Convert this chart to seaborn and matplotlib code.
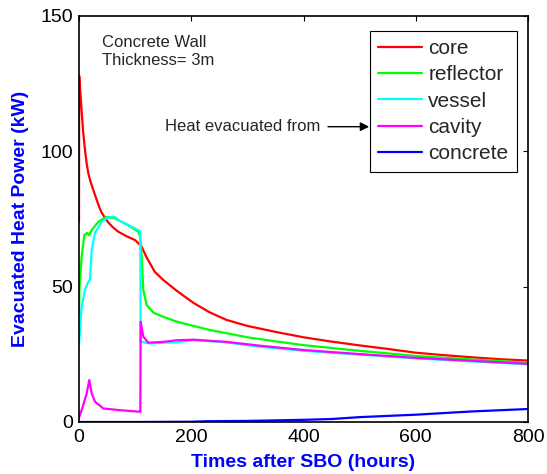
import matplotlib
matplotlib.use("Agg")
import matplotlib.pyplot as plt
import seaborn as sns

# ---------------- data ----------------
series_names = ["core", "reflector", "vessel", "cavity", "concrete"]
series_colors = ["#FF0000", "#00FF00", "#00FFFF", "#FF00FF", "#0000FF"]

core_t = [0, 0.3, 2, 4.7, 7.5, 10.7, 14, 17, 21, 25, 30, 35, 40, 46, 52, 60, 70, 85, 100,
          111, 120, 135, 150, 174, 204, 233, 263, 300, 350, 400, 450, 500, 550, 600,
          650, 700, 750, 800]
core_kw = [74, 128, 123, 115, 107, 100.5, 95, 91.5, 88.5, 86, 83, 80, 77.5, 75.5, 73.8, 72,
           70.3, 68.6, 67.2, 65, 61, 55.5, 52.5, 48.5, 44, 40.5, 37.7, 35.5, 33.3, 31.3,
           29.7, 28.3, 27, 25.6, 24.7, 23.9, 23.2, 22.7]

refl_t = [0, 1, 4.7, 9.5, 14.7, 17.8, 22.6, 34.5, 49, 64, 85, 105.7, 109, 111.6, 114.6,
          120.6, 132.5, 150, 174, 200, 233, 263, 300, 350, 400, 500, 600, 700, 800]
refl_kw = [40, 50, 61, 69, 69.9, 69, 70.9, 74, 75.8, 75.2, 73, 70.3, 68.5, 61, 48.8,
           43.2, 40.4, 38.9, 37.1, 35.7, 34, 32.8, 31.3, 29.8, 28.4, 26.3, 24.4, 23.1, 21.9]

vessel_t = [0, 4.7, 10.7, 16.6, 19.6, 22.6, 28.5, 40.4, 52, 64, 70, 107.5, 109.3, 109.8,
            126.5, 150, 174, 204, 263, 322, 400, 500, 600, 700, 800]
vessel_kw = [28.4, 42.6, 48.8, 51.8, 52.5, 63.5, 69.8, 74, 75.6, 75.8, 74.6, 70.7, 70.5, 29.7,
             29, 29.3, 29.4, 30.3, 29.4, 27.8, 26.3, 24.9, 23.5, 22.4, 21.3]

cavity_t = [0, 7.7, 13.7, 18.4, 22.6, 28.5, 43.3, 71, 107.5, 109.3, 109.8, 114.6, 123.5,
            150, 174, 204, 263, 322, 400, 500, 600, 700, 800]
cavity_kw = [1.5, 6.3, 10.6, 15.5, 10.6, 7.5, 5.0, 4.4, 3.8, 3.8, 37, 31.5, 29.3,
             29.6, 30.2, 30.4, 29.6, 28.2, 26.6, 25.1, 23.7, 22.6, 21.5]

concrete_t = [0, 100, 200, 230, 300, 400, 450, 500, 600, 700, 800]
concrete_kw = [0, 0, 0.1, 0.3, 0.4, 0.8, 1.1, 1.8, 2.7, 3.9, 4.8]

x_ticks = [0, 200, 400, 600, 800]
y_ticks = [0, 50, 100, 150]

# ---------------- style ----------------
sns.set_style("white")
plt.rcParams["font.family"] = ["Liberation Sans", "DejaVu Sans"]

W, H = 547, 474
fig = plt.figure(figsize=(W / 100, H / 100), dpi=100)
ax = fig.add_axes([79 / W, 1 - 422 / H, (528 - 79) / W, (422 - 16) / H])

all_t = [core_t, refl_t, vessel_t, cavity_t, concrete_t]
all_kw = [core_kw, refl_kw, vessel_kw, cavity_kw, concrete_kw]
for name, color, t, kw in zip(series_names, series_colors, all_t, all_kw):
    sns.lineplot(x=t, y=kw, ax=ax, color=color, lw=1.6, label=name,
                 estimator=None, sort=False)

ax.set_xlim(0, 800)
ax.set_ylim(0, 150)
ax.set_xticks(x_ticks)
ax.set_yticks(y_ticks)
ax.tick_params(direction="in", length=3.5, width=0.8, top=True, right=True,
               labelsize=14, colors="black")
ax.tick_params(axis="x", pad=5)
ax.tick_params(axis="y", pad=4.5)
for s in ax.spines.values():
    s.set_color("black")
    s.set_linewidth(1.2)

ax.set_xlabel("Times after SBO (hours)", fontsize=14, fontweight="bold",
              color="#0000FF", labelpad=6)
ax.set_ylabel("Evacuated Heat Power (kW)", fontsize=14, fontweight="bold",
              color="#0000FF", labelpad=8)

ax.text(40.4, 140.1, "Concrete Wall", fontsize=12, va="center", ha="left")
ax.text(40.4, 133.4, "Thickness= 3m", fontsize=12, va="center", ha="left")
ax.text(153.2, 109.1, "Heat evacuated from", fontsize=12, va="center", ha="left")
ax.annotate("", xy=(517, 109.1), xytext=(443.6, 109.1),
            arrowprops=dict(arrowstyle="-|>", color="black", lw=1,
                            mutation_scale=13, shrinkA=0, shrinkB=0))

leg = ax.legend(loc="upper right", bbox_to_anchor=(516.7 / W, 1 - 30.7 / H),
                bbox_transform=fig.transFigure, fontsize=15, frameon=True,
                fancybox=False, edgecolor="black", framealpha=1,
                handlelength=2.1, handletextpad=0.3, labelspacing=0.35,
                borderpad=0.4, borderaxespad=0)
leg.get_frame().set_linewidth(0.8)
for line in leg.get_lines():
    line.set_linewidth(1.6)

fig.savefig("out.png", dpi=100)
